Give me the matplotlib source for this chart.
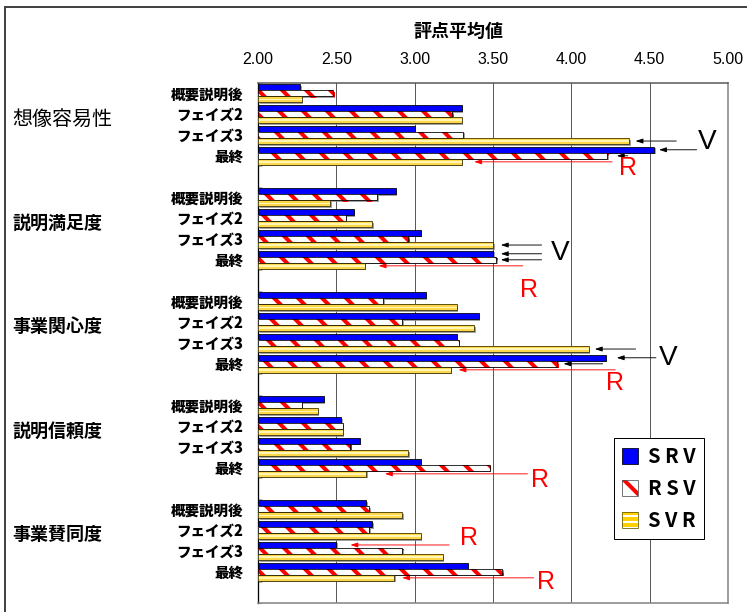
import numpy as np
import matplotlib
matplotlib.use("Agg")
import matplotlib.pyplot as plt
import matplotlib.patheffects as pe
from matplotlib.patches import Patch
from matplotlib.lines import Line2D
from matplotlib.legend_handler import HandlerTuple
from matplotlib.transforms import blended_transform_factory

# --- data ------------------------------------------------------------------------------------
GROUPS = ["想像容易性", "説明満足度", "事業関心度", "説明信頼度", "事業賛同度"]
STAGES = ["概要説明後", "フェイズ2", "フェイズ3", "最終"]
SERIES = ["S R V", "R S V", "S V R"]
SRV = [[2.27, 3.30, 3.00, 4.53],
       [2.88, 2.61, 3.04, 3.50],
       [3.07, 3.41, 3.27, 4.22],
       [2.42, 2.53, 2.65, 3.04],
       [2.69, 2.73, 2.50, 3.34]]
RSV = [[2.48, 3.24, 3.31, 4.23],
       [2.76, 2.56, 2.96, 3.52],
       [2.80, 2.92, 3.28, 3.91],
       [2.28, 2.54, 2.59, 3.48],
       [2.71, 2.71, 2.92, 3.56]]
SVR = [[2.28, 3.30, 4.37, 3.30],
       [2.46, 2.73, 3.50, 2.68],
       [3.27, 3.38, 4.11, 3.23],
       [2.38, 2.54, 2.96, 2.69],
       [2.92, 3.04, 3.18, 2.87]]
XTICKS = [2.0, 2.5, 3.0, 3.5, 4.0, 4.5, 5.0]

# hand-drawn callouts: (group, stage, series idx, tail x, gap before bar end, colour)
ARROWS = [(0, 2, 2, 4.67, 0.04, "black"), (0, 3, 0, 4.80, 0.03, "black"),
          (0, 3, 1, 4.36, 0.06, "black"), (0, 3, 2, 4.26, 0.08, "red"),
          (1, 2, 2, 3.81, 0.05, "black"), (1, 3, 0, 3.81, 0.05, "black"),
          (1, 3, 1, 3.81, 0.03, "black"), (1, 3, 2, 3.69, 0.09, "red"),
          (2, 2, 2, 4.41, 0.04, "black"), (2, 3, 0, 4.54, 0.07, "black"),
          (2, 3, 1, 4.20, 0.04, "black"), (2, 3, 2, 4.28, 0.05, "red"),
          (3, 3, 2, 3.72, 0.12, "red"),
          (4, 2, 0, 3.22, 0.09, "red"), (4, 3, 2, 3.76, 0.05, "red")]
# letters next to them: (text, group, y inside group in slots, x)
MARKS = [("V", 0, 2.84, 4.87), ("R", 0, 4.09, 4.36),
         ("V", 1, 3.17, 3.93), ("R", 1, 4.95, 3.73),
         ("V", 2, 3.22, 4.62), ("R", 2, 4.42, 4.28),
         ("R", 3, 4.09, 3.80),
         ("R", 4, 1.88, 3.35), ("R", 4, 3.99, 3.84)]

JP = ["Noto Sans CJK JP", "DejaVu Sans"]
LAT = ["Liberation Sans", "DejaVu Sans"]
BLUE, RED, GOLD, PALE = "#0000ff", "#ff0000", "#ffd84a", "#fff6b8"
DPI = 72
W, H = 747, 612

plt.rcParams["hatch.linewidth"] = 4.0

fig = plt.figure(figsize=(W / DPI, H / DPI), dpi=DPI)
ax = fig.add_axes([258 / W, 1 - 603 / H, 470 / W, 520 / H])

per = len(STAGES) + 1                      # four stages plus a blank slot per group
n_slot = len(GROUPS) * per
BAR_H = 0.29
OFF = [-BAR_H, 0.0, BAR_H]
X0 = XTICKS[0]


def slot_y(g, s):
    return g * per + s + 0.5


ys = np.array([[slot_y(g, s) for s in range(len(STAGES))] for g in range(len(GROUPS))]).ravel()
srv, rsv, svr = np.ravel(SRV), np.ravel(RSV), np.ravel(SVR)
shadow = [pe.SimplePatchShadow(offset=(1.5, -1.5), shadow_rgbFace="#8a8a8a", alpha=0.8), pe.Normal()]

# S R V : solid blue
ax.barh(ys + OFF[0], srv - X0, left=X0, height=BAR_H, color=BLUE, edgecolor="black", lw=0.8,
        path_effects=shadow, zorder=3)
# R S V : white with red diagonal stripes
ax.barh(ys + OFF[1], rsv - X0, left=X0, height=BAR_H, color="white", edgecolor=RED, hatch="\\",
        lw=0, path_effects=shadow, zorder=3)
ax.barh(ys + OFF[1], rsv - X0, left=X0, height=BAR_H, fill=False, edgecolor="black", lw=0.8,
        zorder=3.2)
# S V R : gold with a pale centre stripe
ax.barh(ys + OFF[2], svr - X0, left=X0, height=BAR_H, color=GOLD, lw=0, path_effects=shadow,
        zorder=3)
ax.barh(ys + OFF[2], svr - X0, left=X0, height=BAR_H * 0.3, color=PALE, lw=0, zorder=3.1)
ax.barh(ys + OFF[2], svr - X0, left=X0, height=BAR_H, fill=False, edgecolor="#3a3300", lw=0.8,
        zorder=3.2)

vals = (SRV, RSV, SVR)
for g, s, k, tail, gap, col in ARROWS:
    y = slot_y(g, s) + OFF[k]
    ax.annotate("", xy=(vals[k][g][s] + gap, y), xytext=(tail, y),
                arrowprops=dict(arrowstyle="-|>,head_length=0.6,head_width=0.2", color=col,
                                lw=0.9, shrinkA=0, shrinkB=0), zorder=2.5)
for txt, g, dy, x in MARKS:
    ax.text(x, g * per + dy, txt, ha="center", va="center", family=LAT,
            fontsize=28 if txt == "V" else 25, color="black" if txt == "V" else RED, zorder=5)

ax.set_xlim(X0, XTICKS[-1])
ax.set_ylim(n_slot, 0)
ax.xaxis.tick_top()
ax.set_xticks(XTICKS)
ax.set_xticklabels([f"{v:.2f}" for v in XTICKS], family=LAT, fontsize=16)
ax.tick_params(axis="x", length=0, pad=16)
ax.set_yticks(ys)
ax.set_yticklabels(STAGES * len(GROUPS), family=JP, fontweight="heavy", fontsize=14.5)
ax.tick_params(axis="y", which="major", length=0, pad=15)
bounds = sorted({g * per for g in range(len(GROUPS) + 1)} | {g * per + len(STAGES) for g in range(len(GROUPS))})
ax.set_yticks(bounds, minor=True)
ax.tick_params(axis="y", which="minor", direction="in", length=4, color="#808080")
ax.grid(axis="x", color="#5a5a5a", lw=1.0)
ax.set_axisbelow(True)
ax.spines["top"].set_color("#555555")
ax.spines["top"].set_linewidth(1.5)
ax.spines["left"].set_color("black")
ax.spines["left"].set_linewidth(1.3)
for sp in ("right", "bottom"):
    ax.spines[sp].set_color("#808080")
    ax.spines[sp].set_linewidth(1.5)

tr = blended_transform_factory(fig.transFigure, ax.transData)
for g, name in enumerate(GROUPS):
    ax.text(12 / W, g * per + 1.75, name, transform=tr, ha="left", va="center", family=JP,
            fontsize=20 if g == 0 else 18, fontweight="normal" if g == 0 else "bold")

fig.text(458 / W, 1 - 32 / H, "評点平均値", ha="center", va="center", family=JP,
         fontsize=18, fontweight="bold")

handles = [Patch(fc=BLUE, ec="black", lw=0.8),
           (Patch(fc="white", ec=RED, hatch="\\", lw=0), Patch(fill=False, ec="#555555", lw=0.8)),
           (Patch(fc="white", ec="#ffd000", hatch="--", lw=0), Patch(fill=False, ec="#6b5a00", lw=0.8))]
leg = ax.legend(handles, SERIES, loc="upper left", bbox_to_anchor=(614 / W, 1 - 438 / H),
                bbox_transform=fig.transFigure, frameon=True, fancybox=False, edgecolor="black",
                framealpha=1, borderaxespad=0, handlelength=0.8, handleheight=0.8,
                handletextpad=0.5, labelspacing=0.55, borderpad=0.4,
                prop=dict(family=JP, weight="bold", size=20),
                handler_map={tuple: HandlerTuple(ndivide=1, pad=0)})
leg.get_frame().set_linewidth(1.0)
leg.set_zorder(6)

# outer frame of the original sheet (top and left edges only are in view)
fig.add_artist(Line2D([5 / W, 5 / W], [0, 1 - 7 / H], transform=fig.transFigure, color="#444444", lw=2))
fig.add_artist(Line2D([5 / W, 1], [1 - 7 / H, 1 - 7 / H], transform=fig.transFigure, color="#444444", lw=2))

fig.savefig("out.png", dpi=DPI, facecolor="white")
